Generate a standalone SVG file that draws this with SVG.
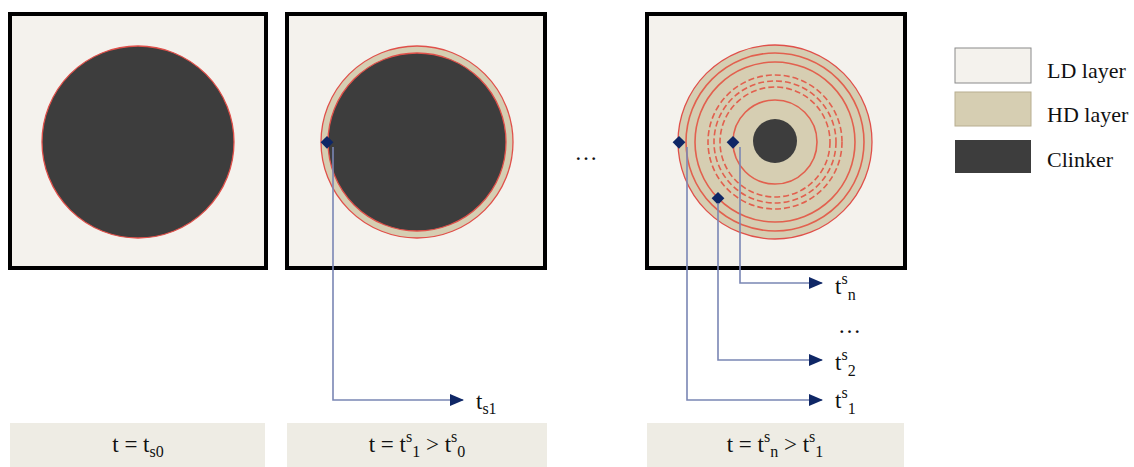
<svg xmlns="http://www.w3.org/2000/svg" width="1134" height="467" viewBox="0 0 1134 467">
<defs>
<style>
.frame{fill:#f4f2ed;stroke:#000;stroke-width:4}
.hd{fill:#d6ceb2}
.clk{fill:#3d3d3d}
.edge{fill:none;stroke:#e0504a;stroke-width:1.3}
.ring{fill:none;stroke:#e2604e;stroke-width:1.6}
.dash{fill:none;stroke:#e2604e;stroke-width:1.6;stroke-dasharray:6 3}
.conn{fill:none;stroke:#7a86b4;stroke-width:1.6}
.dot{fill:#0f2766}
.lab{fill:#eeece4}
.txt{font-family:"Liberation Serif","Times New Roman",serif;font-size:23px;fill:#111}
.leg{font-family:"Liberation Serif","Times New Roman",serif;font-size:22px;fill:#111}
.s{font-size:16px}
</style>
<marker id="arr" markerWidth="14" markerHeight="12" refX="13" refY="6" orient="auto" markerUnits="userSpaceOnUse">
<path d="M0,0 L14,6 L0,12 Z" fill="#0f2766"/>
</marker>
</defs>
<rect width="1134" height="467" fill="#fff"/>

<g id="state0">
<rect class="frame" x="10" y="14" width="256" height="254"/>
<circle class="clk" cx="138" cy="142" r="96"/>
<circle class="edge" cx="138" cy="142" r="96"/>
</g>

<g id="state1">
<rect class="frame" x="287" y="14" width="258" height="254"/>
<circle class="hd" cx="417" cy="142" r="96"/>
<circle class="edge" cx="417" cy="142" r="96"/>
<circle class="clk" cx="417" cy="142" r="89"/>
<circle class="edge" cx="417" cy="142" r="89"/>
<rect class="dot" x="322" y="138" width="9" height="9" transform="rotate(45 327 143)"/>
</g>

<g id="staten">
<rect class="frame" x="647" y="14" width="258" height="254"/>
<circle class="hd" cx="775" cy="142" r="97"/>
<circle class="edge" cx="775" cy="142" r="97"/>
<circle class="ring" cx="775" cy="142" r="89"/>
<circle class="ring" cx="775" cy="142" r="80"/>
<circle class="dash" cx="775" cy="142" r="67"/>
<circle class="dash" cx="775" cy="142" r="61"/>
<circle class="dash" cx="775" cy="142" r="55"/>
<circle class="ring" cx="775" cy="142" r="42"/>
<circle class="clk" cx="775" cy="141" r="22"/>
<rect class="dot" x="674" y="138" width="9" height="9" transform="rotate(45 679 143)"/>
<rect class="dot" x="728" y="138" width="9" height="9" transform="rotate(45 733 143)"/>
<rect class="dot" x="713" y="194" width="9" height="9" transform="rotate(45 718 199)"/>
</g>

<g id="connectors">
<polyline class="conn" points="333,147 333,400 463,400" marker-end="url(#arr)"/>
<polyline class="conn" points="740,147 740,283 822,283" marker-end="url(#arr)"/>
<polyline class="conn" points="718,203 718,360 822,360" marker-end="url(#arr)"/>
<polyline class="conn" points="687,147 687,400 822,400" marker-end="url(#arr)"/>
</g>

<g id="ellipsis">
<text class="txt" x="586" y="160" text-anchor="middle">…</text>
</g>

<g id="point-labels">
<text class="txt" x="476" y="409">t<tspan class="s" dy="5">s1</tspan></text>
<text class="txt" x="835" y="294">t<tspan class="s" dy="-10">s</tspan><tspan class="s" dy="16">n</tspan></text>
<text class="txt" x="838" y="333">…</text>
<text class="txt" x="835" y="370">t<tspan class="s" dy="-10">s</tspan><tspan class="s" dy="16">2</tspan></text>
<text class="txt" x="835" y="408">t<tspan class="s" dy="-10">s</tspan><tspan class="s" dy="16">1</tspan></text>
</g>

<g id="legend">
<rect x="955" y="48" width="76" height="35" fill="#f4f2ed" stroke="#8a8a8a" stroke-width="1"/>
<text class="leg" x="1047" y="78">LD layer</text>
<rect x="955" y="92" width="76" height="34" fill="#d6ceb2" stroke="#b8ae90" stroke-width="1"/>
<text class="leg" x="1047" y="122">HD layer</text>
<rect x="955" y="140" width="76" height="33" fill="#3d3d3d"/>
<text class="leg" x="1047" y="167">Clinker</text>
</g>

<g id="label0">
<rect class="lab" x="10" y="423" width="255" height="44"/>
<text class="txt" x="138" y="452" text-anchor="middle">t = t<tspan class="s" dy="5">s0</tspan></text>
</g>
<g id="label1">
<rect class="lab" x="287" y="423" width="260" height="44"/>
<text class="txt" x="417" y="452" text-anchor="middle">t = t<tspan class="s" dy="-10">s</tspan><tspan class="s" dy="15">1</tspan><tspan dy="-5"> &gt; t</tspan><tspan class="s" dy="-10">s</tspan><tspan class="s" dy="15">0</tspan></text>
</g>
<g id="labeln">
<rect class="lab" x="647" y="423" width="257" height="44"/>
<text class="txt" x="775" y="452" text-anchor="middle">t = t<tspan class="s" dy="-10">s</tspan><tspan class="s" dy="15">n</tspan><tspan dy="-5"> &gt; t</tspan><tspan class="s" dy="-10">s</tspan><tspan class="s" dy="15">1</tspan></text>
</g>
</svg>
